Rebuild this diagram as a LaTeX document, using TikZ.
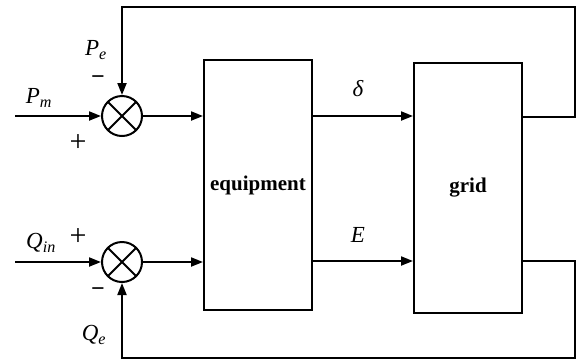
\documentclass[tikz,border=0pt]{standalone}
\usepackage{fontspec}
\setmainfont{Liberation Serif}
\usetikzlibrary{arrows.meta}
\newcommand{\subsc}[2]{#1\textsubscript{#2}}
\begin{document}
\begin{tikzpicture}[x=1pt,y=-1pt,
  line width=2pt,
  arr/.style={-{Triangle[length=12pt,width=9pt]}},
  blk/.style={draw,minimum width=#1,inner sep=0pt,font=\bfseries\fontsize{21}{23}\selectfont},
  summer/.style={draw,circle,minimum size=40pt,inner sep=0pt,
    path picture={\draw[line width=2pt] (path picture bounding box.north west)--(path picture bounding box.south east)
      (path picture bounding box.north east)--(path picture bounding box.south west);}},
  lbl/.style={font=\itshape\fontsize{23}{25}\selectfont,inner sep=1pt},
  sgn/.style={font=\fontsize{30}{30}\selectfont},
  msgn/.style={font=\bfseries\fontsize{24}{24}\selectfont}]
\useasboundingbox (0,0) rectangle (577,360);
\node[blk=108pt,minimum height=250pt] (eq) at (258,185) {equipment};
\node[blk=108pt,minimum height=250pt] (gr) at (468,188) {grid};
\node[summer] (s1) at (122,116) {};
\node[summer] (s2) at (122,262) {};
\coordinate (inP) at (15,116);
\coordinate (inQ) at (15,262);
\draw[arr] (inP) -- (s1);
\draw[arr] (inQ) -- (s2);
\draw[arr] (s1) -- (s1 -| eq.west);
\draw[arr] (s2) -- (s2 -| eq.west);
\draw[arr] (eq.east |- 0,116) -- (gr.west |- 0,116);
\draw[arr] (eq.east |- 0,261) -- (gr.west |- 0,261);
\coordinate (tr) at (575,7);
\coordinate (br) at (575,358);
\draw[arr] (gr.east |- 0,117) -- (tr |- 0,117) -- (tr) -- (tr -| s1) -- (s1);
\draw[arr] (gr.east |- 0,261) -- (br |- 0,261) -- (br) -- (br -| s2) -- (s2);
\node[lbl] (pm) at (39,98) {\subsc{P}{m}};
\node[lbl] (pe) at (96,50) {\subsc{P}{e}};
\node[lbl] (qin) at (41,243) {\subsc{Q}{in}};
\node[lbl] (qe) at (94,335) {\subsc{Q}{e}};
\node[lbl] (dl) at (358,89) {δ};
\node[lbl] (el) at (358,235) {E};
\node[sgn] (p1) at (78,143) {+};
\node[msgn] (m1) at (98,80) {−};
\node[sgn] (p2) at (78,237) {+};
\node[msgn] (m2) at (98,292) {−};
\end{tikzpicture}
\end{document}
